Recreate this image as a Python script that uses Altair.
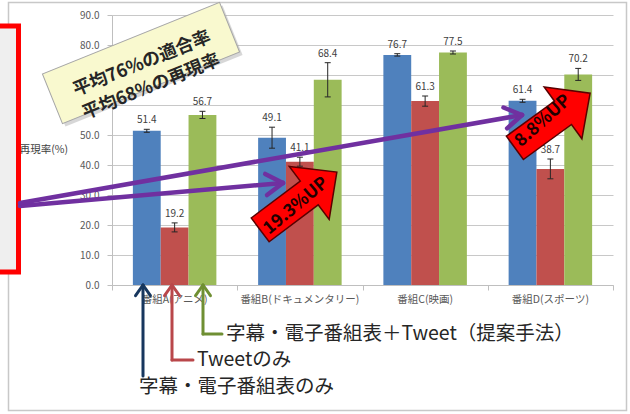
import math
import altair as alt
import pandas as pd

# ---------------- data ----------------
programs = ["番組A(アニメ)", "番組B(ドキュメンタリー)", "番組C(映画)", "番組D(スポーツ)"]
methods = ["字幕・電子番組表のみ", "Tweetのみ", "字幕・電子番組表＋Tweet（提案手法）"]
recall_caption_epg = [51.4, 49.1, 76.7, 61.4]
recall_tweet_only = [19.2, 41.1, 61.3, 38.7]
recall_proposed = [56.7, 68.4, 77.5, 70.2]
err_caption_epg = [0.5, 3.5, 0.4, 0.5]
err_tweet_only = [1.5, 1.5, 1.7, 3.3]
err_proposed = [1.2, 5.7, 0.5, 2.0]
y_ticks = [0, 10, 20, 30, 40, 50, 60, 70, 80, 90]
y_title = "再現率(%)"
note_text = "平均76%の適合率\n平均68%の再現率"
gain_labels = ["19.3%UP", "8.8%UP"]

colors = ["#4F81BD", "#C0504D", "#9BBB59"]
FONT = "Noto Sans CJK JP"

# ---------------- layout ----------------
W, H = 501, 270
PAD_L, PAD_T = 112, 15
N = len(programs)
XMAX, YMAX = N, 90
BAR_W = 1 / 4.5
CAP = 3 * XMAX / W


def dx(p):
    return (p - PAD_L) * XMAX / W


def dy(q):
    return (PAD_T + H - q) * YMAX / H


xs = alt.Scale(domain=[0, XMAX], nice=False, zero=False)
ys = alt.Scale(domain=[0, YMAX], nice=False, zero=False)
x_axis = alt.Axis(values=list(range(N + 1)), labels=False, grid=False, tickSize=5,
                  tickColor="#BFBFBF", domainColor="#BFBFBF", title=None)
y_axis = alt.Axis(values=y_ticks, format=".1f", grid=True, gridColor="#C8C8C8",
                  tickSize=5, tickColor="#BFBFBF", domainColor="#BFBFBF",
                  labelColor="#595959", labelFontSize=10, labelPadding=8, title=None)

series = [recall_caption_epg, recall_tweet_only, recall_proposed]
errs = [err_caption_epg, err_tweet_only, err_proposed]
rows = []
for i, prog in enumerate(programs):
    for k, m in enumerate(methods):
        xc = i + 0.5 + (k - 1) * BAR_W
        v, e = series[k][i], errs[k][i]
        rows.append(dict(program=prog, method=m, xc=xc, x0=xc - BAR_W / 2,
                         x1=xc + BAR_W / 2, value=v, zero=0, lo=v - e, hi=v + e,
                         cl=xc - CAP, cr=xc + CAP, label=f"{v:.1f}"))
bars = pd.DataFrame(rows)


def X(f):
    return alt.X(f, scale=xs, axis=x_axis)


def Y(f):
    return alt.Y(f, scale=ys, axis=y_axis)


bar_layer = alt.Chart(bars).mark_rect(clip=False).encode(
    x=X("x0:Q"), x2="x1:Q", y=Y("value:Q"), y2="zero:Q",
    color=alt.Color("method:N", scale=alt.Scale(domain=methods, range=colors), legend=None),
)

err_rule = alt.Chart(bars).mark_rule(color="#262626", strokeWidth=1, clip=False).encode(
    x=X("xc:Q"), y=Y("lo:Q"), y2="hi:Q")
cap_hi = alt.Chart(bars).mark_rule(color="#262626", strokeWidth=1, clip=False).encode(
    x=X("cl:Q"), x2="cr:Q", y=Y("hi:Q"))
cap_lo = alt.Chart(bars).mark_rule(color="#262626", strokeWidth=1, clip=False).encode(
    x=X("cl:Q"), x2="cr:Q", y=Y("lo:Q"))
val_labels = alt.Chart(bars).mark_text(dy=-9, fontSize=10, color="#404040", clip=False).encode(
    x=X("xc:Q"), y=Y("hi:Q"), text="label:N")

cats = pd.DataFrame({"program": programs, "xc": [i + 0.5 for i in range(N)], "y": dy(300)})
cat_labels = alt.Chart(cats).mark_text(fontSize=10.5, color="#595959", clip=False).encode(
    x=X("xc:Q"), y=Y("y:Q"), text="program:N")

ytitle = alt.Chart(pd.DataFrame({"t": [y_title], "x": [dx(68)], "y": [dy(150)]})).mark_text(
    fontSize=10.5, color="#404040", align="right", clip=False).encode(x=X("x:Q"), y=Y("y:Q"), text="t:N")

# outer frame
frame = alt.Chart(pd.DataFrame({"x": [dx(8.5)], "x2": [dx(626.5)], "y": [dy(2.5)], "y2": [dy(410.5)]})).mark_rect(
    fillOpacity=0, stroke="#C8C8C8", strokeWidth=1.5, clip=False).encode(
    x=X("x:Q"), x2="x2:Q", y=Y("y:Q"), y2="y2:Q")

# red box at the left
redbox = alt.Chart(pd.DataFrame({"x": [dx(-20)], "x2": [dx(18.5)], "y": [dy(26)], "y2": [dy(272)]})).mark_rect(
    fill="#EFEFEF", stroke="#FF0000", strokeWidth=5, clip=False).encode(
    x=X("x:Q"), x2="x2:Q", y=Y("y:Q"), y2="y2:Q")

# yellow note
NOTE_PATH = "M-1,-0.28L1,-0.28L1,0.28L-1,0.28Z"
note_shadow = alt.Chart(pd.DataFrame({"x": [dx(144)], "y": [dy(66)]})).mark_point(
    shape=NOTE_PATH, filled=True, fill="#B0B0B0", opacity=0.5, size=191 ** 2, angle=338,
    strokeWidth=0, clip=False).encode(x=X("x:Q"), y=Y("y:Q"))
note = alt.Chart(pd.DataFrame({"x": [dx(141)], "y": [dy(63)]})).mark_point(
    shape=NOTE_PATH, filled=True, fill="#F9F9CF", stroke="#A6A6A6", strokeWidth=1,
    opacity=1, size=191 ** 2, angle=338, clip=False).encode(x=X("x:Q"), y=Y("y:Q"))
note_txt = alt.Chart(pd.DataFrame({"t": [note_text], "x": [dx(142)], "y": [dy(64)]})).mark_text(
    fontSize=18, fontWeight="bold", color="#262626", angle=338, lineBreak="\n", lineHeight=25,
    clip=False).encode(x=X("x:Q"), y=Y("y:Q"), text="t:N")

# red block arrows
ARROW_PATH = "M-1,-0.31L0.28,-0.31L0.28,-0.69L1,0L0.28,0.69L0.28,0.31L-1,0.31Z"
blk = pd.DataFrame({"x": [dx(298.5), dx(552.5)], "y": [dy(201), dy(120.5)],
                    "size": [96 ** 2, 93 ** 2], "angle": [323, 324]})
block_arrows = alt.Chart(blk).mark_point(
    shape=ARROW_PATH, filled=True, fill="#FF0000", stroke="#5A0000", strokeWidth=1.5,
    opacity=1, clip=False).encode(
    x=X("x:Q"), y=Y("y:Q"), size=alt.Size("size:Q", scale=None, legend=None),
    angle=alt.Angle("angle:Q", scale=None))
blk_txt = pd.DataFrame({"t": gain_labels, "x": [dx(296), dx(543)], "y": [dy(206), dy(121)],
                        "angle": [320, 318]})
block_text = alt.Chart(blk_txt).mark_text(
    fontSize=17.5, fontWeight="bold", color="#200000", clip=False).encode(
    x=X("x:Q"), y=Y("y:Q"), text="t:N", angle=alt.Angle("angle:Q", scale=None))


# line arrows
def arrow(x0, y0, x1, y1, head, spread, color, width, extra=()):
    a = math.atan2(y1 - y0, x1 - x0)
    segs = [(x0, y0, x1, y1)] + list(extra)
    for s in (1, -1):
        b = a + math.pi - s * math.radians(spread)
        segs.append((x1, y1, x1 + head * math.cos(b), y1 + head * math.sin(b)))
    return [dict(x=dx(p0), y=dy(q0), x2=dx(p1), y2=dy(q1), color=color, w=width)
            for (p0, q0, p1, q1) in segs]


seg_rows = []
seg_rows += arrow(20, 206, 283, 183, 20, 32, "#7030A0", 4.5)
seg_rows += arrow(20, 203, 522, 115, 20, 32, "#7030A0", 4.5)
seg_rows += arrow(143, 376, 143, 285, 13, 35, "#17375E", 3)
seg_rows += arrow(172, 360, 172, 285, 13, 35, "#B9474A", 3, extra=[(172, 360, 193, 360)])
seg_rows += arrow(203, 334, 203, 285, 13, 35, "#6F8F33", 3, extra=[(203, 334, 222, 334)])
segs = pd.DataFrame(seg_rows)
seg_layer = alt.Chart(segs).mark_rule(strokeCap="round", clip=False).encode(
    x=X("x:Q"), x2="x2:Q", y=Y("y:Q"), y2="y2:Q",
    color=alt.Color("color:N", scale=None, legend=None),
    strokeWidth=alt.StrokeWidth("w:Q", scale=None, legend=None))

leg = pd.DataFrame({"t": [methods[2], methods[1], methods[0]],
                    "x": [dx(226), dx(197), dx(139)],
                    "y": [dy(334), dy(360), dy(386.5)]})
leg_text = alt.Chart(leg).mark_text(
    fontSize=19.5, color="#262626", align="left", baseline="middle", clip=False).encode(
    x=X("x:Q"), y=Y("y:Q"), text="t:N")

chart = alt.layer(
    frame, bar_layer, err_rule, cap_hi, cap_lo, val_labels, cat_labels, ytitle,
    redbox, note_shadow, note, note_txt, block_arrows, block_text, seg_layer, leg_text
).properties(
    width=W, height=H, autosize=alt.AutoSizeParams(type="none"),
    padding={"left": PAD_L, "top": PAD_T, "right": 630 - PAD_L - W, "bottom": 414 - PAD_T - H},
    background="white",
).configure(font=FONT).configure_view(stroke=None)

chart.save("out.html", embed_options={"renderer": "svg", "actions": False})
